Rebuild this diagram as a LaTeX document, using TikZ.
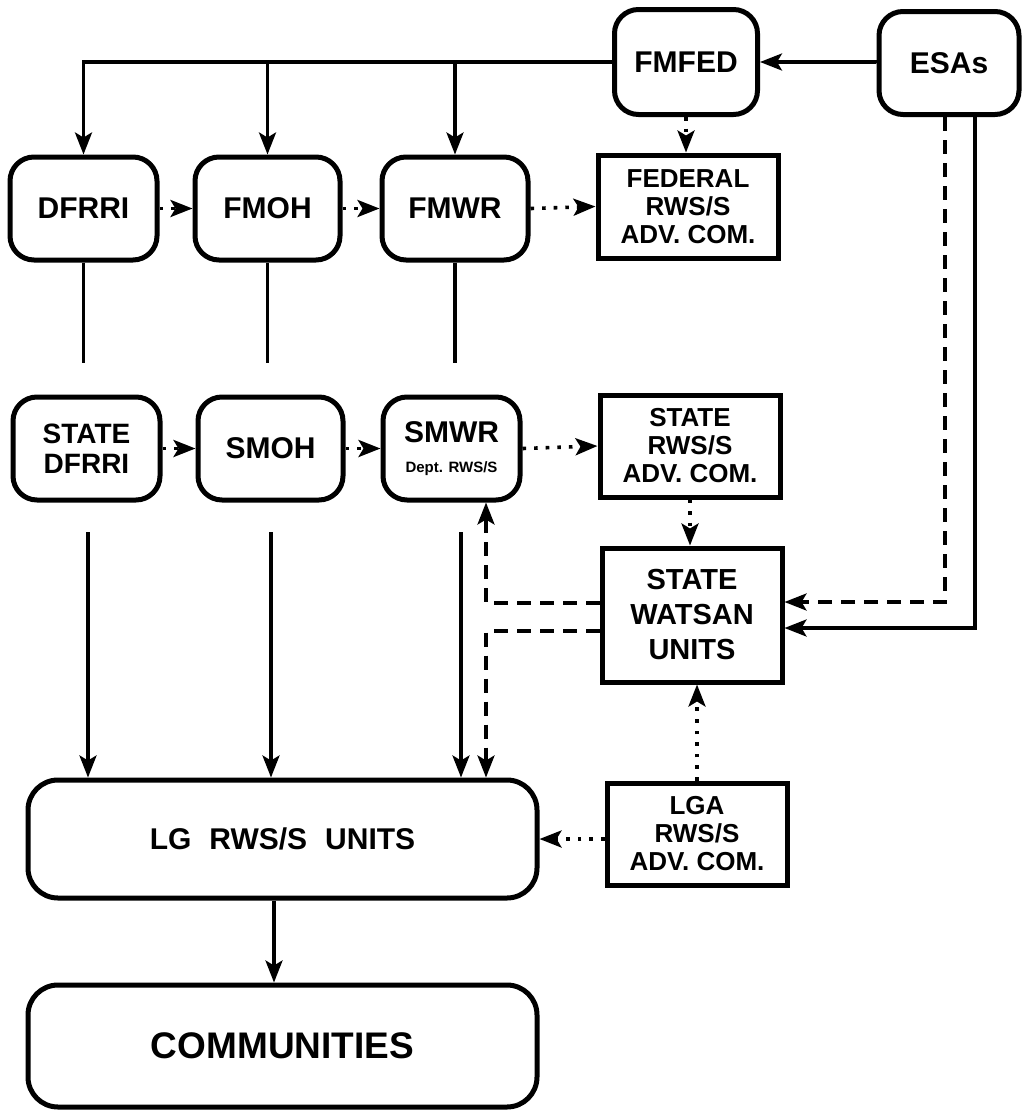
\documentclass[tikz,border=0pt]{standalone}
\usepackage{fontspec}
\setmainfont{Liberation Sans}
\usetikzlibrary{arrows.meta}
\begin{document}
\begin{tikzpicture}[x=1pt,y=-1pt,
  rbox/.style={draw, line width=5pt, rounded corners=24pt, align=center, inner sep=0pt, font=\bfseries\fontsize{30}{32}\selectfont},
  sbox/.style={draw, line width=5pt, align=center, inner sep=0pt, font=\bfseries\fontsize{26}{28}\selectfont},
  conn/.style={line width=3.4pt},
  arr/.style={conn, -{Stealth[length=22pt,width=17pt,inset=5pt]}},
  dotarr/.style={arr, line width=3.6pt, dash pattern=on 3.6pt off 8pt},
  dasharr/.style={arr, dash pattern=on 14pt off 9pt},
]
\fill[white] (0,0) rectangle (1023,1111);
\useasboundingbox (0,0) rectangle (1023,1111);

% federal level
\node[rbox, minimum width=143pt, minimum height=105pt] (fmfed) at (686,62) {FMFED};
\node[rbox, minimum width=140pt, minimum height=103pt] (esas) at (949,63) {ESAs};
\node[rbox, minimum width=147pt, minimum height=103pt] (dfrri) at (83.5,208.5) {DFRRI};
\node[rbox, minimum width=145pt, minimum height=103pt] (fmoh) at (267.5,208.5) {FMOH};
\node[rbox, minimum width=146pt, minimum height=103pt] (fmwr) at (455,208.5) {FMWR};
\node[sbox, minimum width=180pt, minimum height=103pt] (fed) at (688,206.5) {FEDERAL\\RWS/S\\ADV. COM.};

% state level
\node[rbox, minimum width=147pt, minimum height=103pt, font=\bfseries\fontsize{28}{30}\selectfont] (sdfrri) at (86.5,448.5) {STATE\\DFRRI};
\node[rbox, minimum width=145pt, minimum height=103pt] (smoh) at (270.5,448.5) {SMOH};
\node[rbox, minimum width=137pt, minimum height=103pt] (smwr) at (451.5,448.5) {SMWR\\[-2pt]{\fontsize{15}{17}\selectfont Dept. RWS/S}};
\node[sbox, minimum width=180pt, minimum height=102pt] (srws) at (690,446) {STATE\\RWS/S\\ADV. COM.};
\node[sbox, minimum width=180pt, minimum height=134pt, font=\bfseries\fontsize{29}{35}\selectfont] (watsan) at (692,615) {STATE\\WATSAN\\UNITS};

% local level
\node[rbox, rounded corners=30pt, minimum width=509pt, minimum height=118pt, font=\bfseries\fontsize{30}{32}\selectfont] (lg) at (282.5,839) {LG\hspace{0.6em}RWS/S\hspace{0.6em}UNITS};
\node[rbox, rounded corners=30pt, minimum width=509pt, minimum height=122pt, font=\bfseries\fontsize{37}{40}\selectfont] (comm) at (282.5,1046) {COMMUNITIES};
\node[sbox, minimum width=180pt, minimum height=102pt] (lga) at (697,834) {LGA\\RWS/S\\ADV. COM.};

% coordinates for free ends and bends
\coordinate (d1) at (83.5,363);
\coordinate (d2) at (267.5,363);
\coordinate (d3) at (455,363);
\coordinate (s1) at (88,532);
\coordinate (s2) at (271,532);
\coordinate (s3) at (461,532);
\coordinate (dx1) at (486,603);
\coordinate (dx2) at (486,631);
\coordinate (ed) at (945,602);
\coordinate (es) at (975,628);
\coordinate (lc) at (274,0);

% top distribution from FMFED
\draw[arr] (esas.west) -- (fmfed.west -| esas.west) -- (fmfed.east);
\draw[arr] (fmfed.west) -| (dfrri.north);
\draw[arr] (fmfed.west -| fmoh.north) -- (fmoh.north);
\draw[arr] (fmfed.west -| fmwr.north) -- (fmwr.north);
\draw[dotarr] (fmfed.south) -- (fmfed.south |- fed.north);

% federal row dotted links
\draw[dotarr] (dfrri.east) -- (fmoh.west);
\draw[dotarr] (fmoh.east) -- (fmwr.west);
\draw[dotarr] (fmwr.east) -- (fed.west);

% federal to state lines (broken)
\draw[conn] (dfrri.south) -- (d1);
\draw[conn] (fmoh.south) -- (d2);
\draw[conn] (fmwr.south) -- (d3);

% state row dotted links
\draw[dotarr] (sdfrri.east) -- (smoh.west);
\draw[dotarr] (smoh.east) -- (smwr.west);
\draw[dotarr] (smwr.east) -- (srws.west);
\draw[dotarr] (srws.south) -- (srws.south |- watsan.north);

% state to LG
\draw[arr] (s1) -- (s1 |- lg.north);
\draw[arr] (s2) -- (s2 |- lg.north);
\draw[arr] (s3) -- (s3 |- lg.north);

% WATSAN dashed links
\draw[dasharr] (watsan.west |- dx1) -- (dx1) -- (dx1 |- smwr.south);
\draw[dasharr] (watsan.west |- dx2) -- (dx2) -- (dx2 |- lg.north);

% ESAs to WATSAN
\draw[dasharr] (esas.south -| ed) -- (ed) -- (ed -| watsan.east);
\draw[arr] (esas.south -| es) -- (es) -- (es -| watsan.east);

% LGA links
\draw[dotarr] (lga.north) -- (lga.north |- watsan.south);
\draw[dotarr] (lga.west |- lg.east) -- (lg.east);

% LG to communities
\draw[arr] (lg.south -| lc) -- (comm.north -| lc);
\end{tikzpicture}
\end{document}
